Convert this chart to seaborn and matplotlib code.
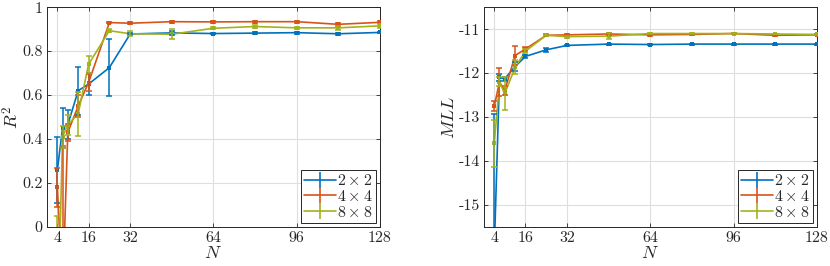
import numpy as np
import pandas as pd
import matplotlib
matplotlib.use("Agg")
import matplotlib.pyplot as plt
import seaborn as sns

N = [4, 6, 8, 12, 16, 24, 32, 48, 64, 80, 96, 112, 128]
grids = ["2x2", "4x4", "8x8"]
grid_labels = [r"$2\times2$", r"$4\times4$", r"$8\times8$"]

r2_2x2 = [0.26, 0.45, 0.465, 0.62, 0.65, 0.725, 0.878, 0.883, 0.880, 0.882, 0.884, 0.879, 0.885]
r2_2x2_err = [0.15, 0.09, 0.065, 0.11, 0.05, 0.13, 0.006, 0.008, 0.004, 0.004, 0.004, 0.005, 0.004]
r2_4x4 = [0.18, -0.30, 0.43, 0.55, 0.657, 0.930, 0.927, 0.934, 0.933, 0.934, 0.934, 0.922, 0.931]
r2_4x4_err = [0.09, 0.67, 0.04, 0.05, 0.04, 0.004, 0.004, 0.004, 0.004, 0.004, 0.004, 0.007, 0.005]
r2_8x8 = [-0.50, 0.41, 0.465, 0.515, 0.74, 0.893, 0.879, 0.877, 0.904, 0.912, 0.906, 0.906, 0.915]
r2_8x8_err = [0.55, 0.05, 0.045, 0.10, 0.04, 0.008, 0.012, 0.022, 0.005, 0.005, 0.005, 0.008, 0.01]

mll_2x2 = [-16.0, -12.1, -12.13, -11.85, -11.62, -11.47, -11.37, -11.34, -11.35, -11.34, -11.34, -11.34, -11.34]
mll_2x2_err = [3.06, 0.08, 0.04, 0.10, 0.04, 0.05, 0.01, 0.01, 0.01, 0.01, 0.01, 0.01, 0.01]
mll_4x4 = [-12.75, -12.2, -12.4, -11.6, -11.45, -11.14, -11.13, -11.11, -11.13, -11.12, -11.10, -11.14, -11.13]
mll_4x4_err = [0.12, 0.32, 0.10, 0.21, 0.05, 0.02, 0.02, 0.02, 0.02, 0.01, 0.01, 0.02, 0.01]
mll_8x8 = [-13.6, -12.2, -12.47, -11.87, -11.5, -11.14, -11.17, -11.16, -11.10, -11.10, -11.10, -11.11, -11.12]
mll_8x8_err = [0.53, 0.10, 0.38, 0.16, 0.04, 0.02, 0.02, 0.07, 0.01, 0.01, 0.01, 0.01, 0.01]

colors = ["#0072BD", "#D95319", "#A3B31C"]


def long_table(vals, errs):
    rows = []
    for g, v, e in zip(grids, vals, errs):
        for n, y, s in zip(N, v, e):
            rows.append({"N": n, "grid": g, "val": y, "err": s})
    return pd.DataFrame(rows)


df_r2 = long_table([r2_2x2, r2_4x4, r2_8x8], [r2_2x2_err, r2_4x4_err, r2_8x8_err])
df_mll = long_table([mll_2x2, mll_4x4, mll_8x8], [mll_2x2_err, mll_4x4_err, mll_8x8_err])

sns.set_theme(style="ticks")
plt.rcParams.update({
    "font.family": ["cmr10", "DejaVu Serif"],
    "mathtext.fontset": "cm",
    "axes.unicode_minus": False,
    "axes.formatter.use_mathtext": True,
    "font.size": 11,
    "axes.edgecolor": "#262626",
    "axes.linewidth": 0.7,
    "xtick.direction": "in",
    "ytick.direction": "in",
    "xtick.top": True,
    "ytick.right": True,
    "xtick.major.size": 3,
    "ytick.major.size": 3,
    "xtick.major.width": 0.6,
    "ytick.major.width": 0.6,
    "xtick.labelsize": 11.5,
    "ytick.labelsize": 11.5,
})

fig = plt.figure(figsize=(8.3, 2.66), dpi=100)
ax1 = fig.add_axes([0.0566, 0.147, 0.401, 0.826])
ax2 = fig.add_axes([0.583, 0.147, 0.401, 0.826])


def draw_panel(ax, df, ylim, yticks, yticklabels, ylabel):
    sns.lineplot(data=df, x="N", y="val", hue="grid", palette=colors,
                 marker="s", markersize=3.2, markeredgewidth=0, linewidth=1.2,
                 errorbar=None, legend=False, ax=ax, zorder=3)
    handles = []
    for g, c, lab in zip(grids, colors, grid_labels):
        sub = df[df["grid"] == g]
        ax.errorbar(sub["N"], sub["val"], yerr=sub["err"], fmt="none", ecolor=c,
                    elinewidth=1.1, capsize=2, capthick=1.1, zorder=3)
        h = ax.errorbar([], [], yerr=[], color=c, linewidth=1.2, elinewidth=1.2,
                        capsize=2.5, capthick=1.2, label=lab)
        handles.append(h)
    ax.set_xlim(0, 128)
    ax.set_ylim(*ylim)
    ax.set_xticks([4, 16, 32, 64, 96, 128])
    ax.set_xticklabels(["4", "16", "32", "64", "96", "128"])
    ax.set_yticks(yticks)
    ax.set_yticklabels(yticklabels)
    ax.grid(True, color="#dedede", linewidth=0.8)
    ax.set_axisbelow(True)
    ax.set_xlabel(r"$N$", fontsize=13, labelpad=0.5)
    ax.set_ylabel(ylabel, fontsize=13, labelpad=1)
    ax.tick_params(pad=3)
    leg = ax.legend(handles=handles, loc="lower right", fontsize=11.5,
                    fancybox=False, framealpha=1, edgecolor="#262626",
                    borderaxespad=0.25, borderpad=0.2, labelspacing=0.05,
                    handlelength=2.0, handletextpad=0.05)
    leg.get_frame().set_linewidth(0.7)


draw_panel(ax1, df_r2, (0, 1), [0, 0.2, 0.4, 0.6, 0.8, 1],
           ["0", "0.2", "0.4", "0.6", "0.8", "1"], r"$R^2$")
draw_panel(ax2, df_mll, (-15.5, -10.5), [-15, -14, -13, -12, -11],
           ["-15", "-14", "-13", "-12", "-11"], r"$MLL$")

fig.savefig("out.png", dpi=100)
